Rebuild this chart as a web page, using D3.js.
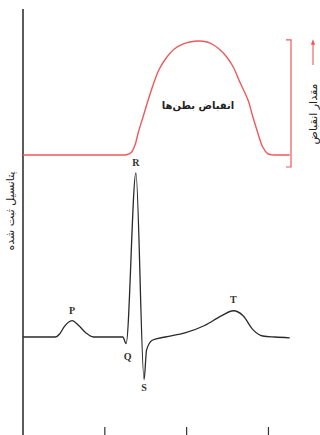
<!DOCTYPE html>
<html>
<head>
<meta charset="utf-8">
<script src="https://d3js.org/d3.v7.min.js"></script>
<style>
  body { margin: 0; background: #fff; }
  svg { display: block; }
</style>
</head>
<body>
<div id="chart"></div>
<script>
// time in seconds
var ecgTime = [0, 0.039, 0.045, 0.050, 0.060, 0.068, 0.077, 0.086, 0.122, 0.126, 0.138, 0.148, 0.151, 0.158, 0.174, 0.198, 0.222, 0.243, 0.257, 0.269, 0.281, 0.293, 0.308, 0.326];
// recorded potential (mV)
var ecgValue = [0, 0, 0.02, 0.06, 0.10, 0.07, 0.025, 0, 0, -0.04, 1.0, -0.26, -0.08, -0.02, 0, 0.025, 0.07, 0.13, 0.16, 0.13, 0.045, 0.006, 0, -0.005];

// ventricular contraction (relative)
var contractionTime = [0, 0.1, 0.121, 0.126, 0.132, 0.137, 0.141, 0.147, 0.153, 0.159, 0.166, 0.175, 0.185, 0.196, 0.204, 0.214, 0.225, 0.233, 0.241, 0.249, 0.257, 0.265, 0.275, 0.281, 0.287, 0.293, 0.299, 0.304, 0.31, 0.326];
var contractionValue = [0, 0, 0, 0.002, 0.02, 0.09, 0.2, 0.34, 0.482, 0.614, 0.746, 0.851, 0.93, 0.974, 0.991, 1.0, 0.991, 0.965, 0.921, 0.86, 0.772, 0.64, 0.482, 0.333, 0.193, 0.07, 0.012, 0.001, 0, 0];

var waveLabels = ["P", "Q", "R", "S", "T"];
var waveLabelTime = [0.060, 0.128, 0.138, 0.148, 0.257];
var waveLabelValue = [0.10, -0.04, 1.0, -0.26, 0.16];
var waveLabelOffset = [-9, 14, -9, 9, -10];

var tickValues = [0.1, 0.2, 0.3];

var width = 320, height = 435;

var svg = d3.select("#chart")
  .append("svg")
    .attr("width", width)
    .attr("height", height);

// scales
var x = d3.scaleLinear().domain([0, 0.33]).range([23, 293]);
var yEcg = d3.scaleLinear().domain([0, 1]).range([337, 173]);
var yCon = d3.scaleLinear().domain([0, 1]).range([155, 41]);

var red = "#f0585a";
var dark = "#333";

// left axis
svg.append("line")
  .attr("x1", 23).attr("x2", 23)
  .attr("y1", 9).attr("y2", height)
  .attr("stroke", dark)
  .attr("stroke-width", 1.6);

// bottom ticks
svg.selectAll(".tick")
  .data(tickValues)
  .enter().append("line")
    .attr("class", "tick")
    .attr("x1", function(d) { return x(d); })
    .attr("x2", function(d) { return x(d); })
    .attr("y1", 427).attr("y2", height)
    .attr("stroke", dark)
    .attr("stroke-width", 1.2);

// contraction curve
var conData = contractionTime.map(function(t, i) { return {t: t, v: contractionValue[i]}; });
var conLine = d3.line()
  .x(function(d) { return x(d.t); })
  .y(function(d) { return yCon(d.v); })
  .curve(d3.curveCatmullRom.alpha(0.5));

svg.append("path")
  .datum(conData)
  .attr("d", conLine)
  .attr("fill", "none")
  .attr("stroke", red)
  .attr("stroke-width", 1.4);

// bracket for contraction amount
var bx = 291;
svg.append("path")
  .attr("d", "M" + (bx - 5) + "," + yCon(1.01) + "H" + bx + "V" + (yCon(0) + 12) + "H" + (bx - 5))
  .attr("fill", "none")
  .attr("stroke", red)
  .attr("stroke-width", 1.2);

// arrow
svg.append("defs").append("marker")
  .attr("id", "arrow")
  .attr("viewBox", "0 0 10 10")
  .attr("refX", 5).attr("refY", 5)
  .attr("markerWidth", 5).attr("markerHeight", 5)
  .attr("orient", "auto")
  .append("path")
    .attr("d", "M0,1 L10,5 L0,9 Z")
    .attr("fill", red);

svg.append("line")
  .attr("x1", 313).attr("x2", 313)
  .attr("y1", 65).attr("y2", 42)
  .attr("stroke", red)
  .attr("stroke-width", 1.1)
  .attr("marker-end", "url(#arrow)");

svg.append("text")
  .attr("transform", "translate(317,114) rotate(-90)")
  .attr("text-anchor", "middle")
  .style("font-family", "DejaVu Sans")
  .style("font-size", "11px")
  .attr("fill", "#222")
  .text("مقدار انقباض");

// contraction label
svg.append("text")
  .attr("x", 198).attr("y", 109)
  .attr("text-anchor", "middle")
  .style("font-family", "DejaVu Sans")
  .style("font-size", "10px")
  .style("font-weight", "bold")
  .attr("fill", "#222")
  .text("انقباض بطن‌ها");

// y label
svg.append("text")
  .attr("transform", "translate(14,211) rotate(-90)")
  .attr("text-anchor", "middle")
  .style("font-family", "DejaVu Sans")
  .style("font-size", "11px")
  .attr("fill", "#222")
  .text("پتانسیل ثبت شده");

// ECG line
var ecgData = ecgTime.map(function(t, i) { return {t: t, v: ecgValue[i]}; });
var ecgLine = d3.line()
  .x(function(d) { return x(d.t); })
  .y(function(d) { return yEcg(d.v); })
  .curve(d3.curveMonotoneX);

svg.append("path")
  .datum(ecgData)
  .attr("d", ecgLine)
  .attr("fill", "none")
  .attr("stroke", "#2a2a2a")
  .attr("stroke-width", 1.3);

// wave labels
svg.selectAll(".wave")
  .data(waveLabels)
  .enter().append("text")
    .attr("class", "wave")
    .attr("x", function(d, i) { return x(waveLabelTime[i]); })
    .attr("y", function(d, i) { return yEcg(waveLabelValue[i]) + waveLabelOffset[i]; })
    .attr("text-anchor", "middle")
    .attr("dominant-baseline", "middle")
    .style("font-family", "Liberation Serif")
    .style("font-size", "10px")
    .style("font-weight", "bold")
    .attr("fill", "#333")
    .text(function(d) { return d; });
</script>
</body>
</html>
